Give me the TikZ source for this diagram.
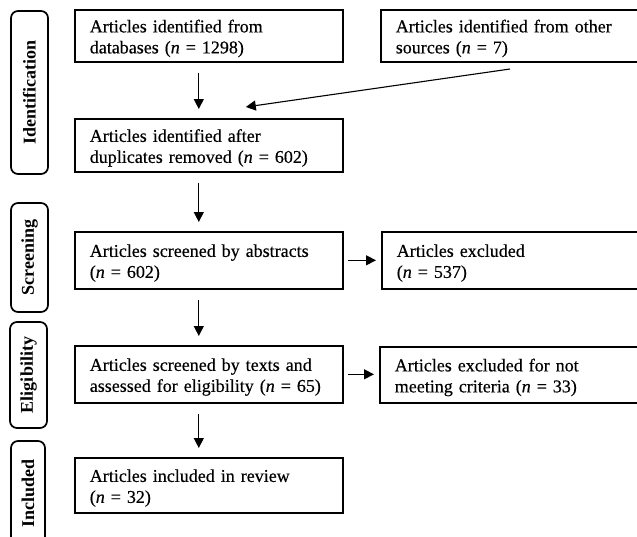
\documentclass[tikz,border=0pt]{standalone}
\usepackage{fontspec}
\setmainfont{Liberation Serif}[UprightFeatures={FakeBold=0.4},ItalicFeatures={FakeBold=0.4}]
\usetikzlibrary{arrows.meta}
\newcommand{\fls}{\rule{0pt}{18pt}}
\begin{document}
\begin{tikzpicture}[x=1pt,y=-1pt,
  every node/.style={font=\fontsize{18}{21}\selectfont},
  flowbox/.style={draw, line width=1.6pt, rectangle, anchor=north west,
    inner xsep=15pt, inner ysep=0pt, align=left},
  leftbox/.style={flowbox, text width=238pt, minimum width=268pt},
  rightbox/.style={flowbox, text width=250pt, minimum width=280pt},
  stagebox/.style={draw, line width=1.7pt, rounded corners=7pt, rotate=90,
    inner sep=0pt, font=\fontsize{18}{21}\selectfont\bfseries},
  arr/.style={line width=1.1pt, -{Triangle[length=10pt,width=10pt]}},
  varr/.style={arr, shorten <=10pt, shorten >=9pt},
  harr/.style={arr, shorten <=4pt, shorten >=5pt}
]
\useasboundingbox (0,0) rectangle (637,536);
\clip (0,0) rectangle (637,536);
\fill[white] (0,0) rectangle (637,536);

% stage labels
\node[stagebox, minimum width=163pt, minimum height=37pt] (sid) at (29.5,92.5) {Identification};
\node[stagebox, minimum width=109pt, minimum height=37pt] (ssc) at (29.5,257.5) {Screening};
\node[stagebox, minimum width=106pt, minimum height=37pt] (sel) at (28.5,375) {Eligibility};
\node[stagebox, minimum width=104pt, minimum height=34pt] (sin) at (28,493) {Included};

% main column
\node[leftbox, minimum height=52pt] (b1) at (74,9) {\fls Articles identified from\\databases (\textit{n} = 1298)};
\node[leftbox, minimum height=53pt] (b2) at (74,118) {\fls Articles identified after\\duplicates removed (\textit{n} = 602)};
\node[leftbox, minimum height=57pt] (b3) at (74,231) {\fls Articles screened by abstracts\\(\textit{n} = 602)};
\node[leftbox, minimum height=57pt] (b4) at (74,345) {\fls Articles screened by texts and\\assessed for eligibility (\textit{n} = 65)};
\node[leftbox, minimum height=55pt] (b5) at (74,457) {\fls Articles included in review\\(\textit{n} = 32)};

% right column
\node[rightbox, minimum height=52pt] (o1) at (380,9) {\fls Articles identified from other\\sources (\textit{n} = 7)};
\node[rightbox, minimum height=57pt] (e1) at (381,231) {\fls Articles excluded\\(\textit{n} = 537)};
\node[rightbox, minimum height=56pt] (e2) at (379,346) {\fls Articles excluded for not\\meeting criteria (\textit{n} = 33)};

% connectors
\draw[varr] ([xshift=-10pt]b1.south) -- ([xshift=-10pt]b2.north);
\draw[varr] ([xshift=-10pt]b2.south) -- ([xshift=-10pt]b3.north);
\draw[varr] ([xshift=-10pt]b3.south) -- ([xshift=-10pt]b4.north);
\draw[varr] ([xshift=-10pt]b4.south) -- ([xshift=-10pt]b5.north);
\coordinate (osrc) at (510,69);
\draw[arr] (osrc) -- ([xshift=37pt,yshift=11pt]b2.north);
\draw[harr] (b3.east) -- (b3.east -| e1.west);
\draw[harr] (b4.east) -- (b4.east -| e2.west);
\end{tikzpicture}
\end{document}
